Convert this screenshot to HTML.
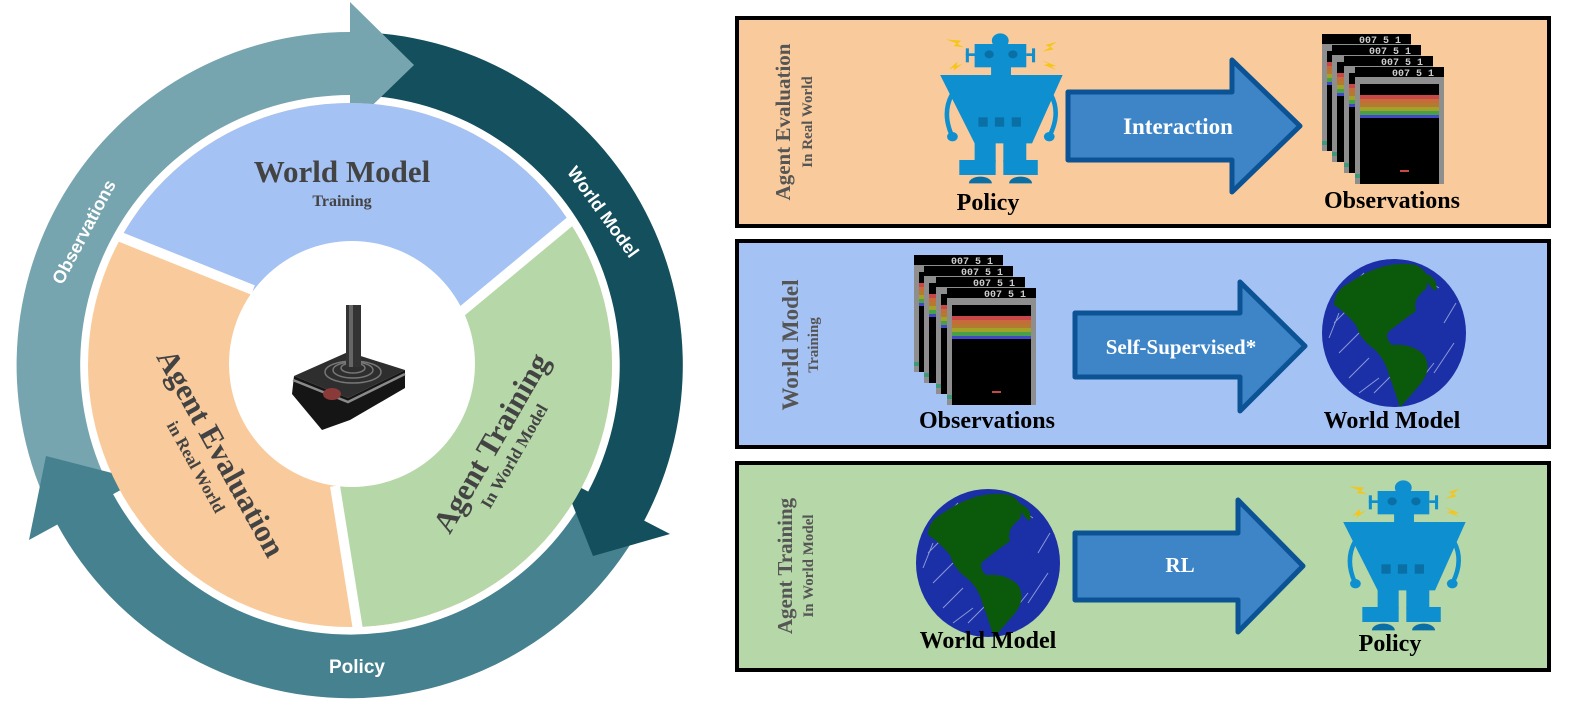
<!DOCTYPE html>
<html><head><meta charset="utf-8"><style>
html,body{margin:0;padding:0;background:#fff}
svg{display:block}
.sf{font-family:"Liberation Serif",serif;font-weight:bold}
.ss{font-family:"Liberation Sans",sans-serif;font-weight:bold}
</style></head><body>
<svg width="1588" height="712" viewBox="0 0 1588 712" xmlns="http://www.w3.org/2000/svg">
<defs>
<clipPath id="pc"><circle cx="350" cy="365" r="262"/></clipPath>
<g id="robot">
  <g fill="#f5c518">
    <polygon points="120,58 160,62 150,72 168,82 140,78 148,70"/>
    <polygon points="410,65 380,75 392,82 372,95 402,88 392,80"/>
    <polygon points="128,148 150,125 148,138 165,130 140,152 142,142"/>
    <polygon points="370,120 408,138 395,140 410,150 375,135 388,132"/>
  </g>
  <g fill="#0e8fd0">
    <circle cx="262" cy="62" r="22"/>
    <rect x="252" y="60" width="22" height="20"/>
    <rect x="195" y="72" width="135" height="70"/>
    <rect x="172" y="85" width="8" height="42"/><rect x="172" y="100" width="25" height="8"/>
    <rect x="345" y="85" width="8" height="42"/><rect x="330" y="100" width="22" height="8"/>
    <rect x="238" y="140" width="52" height="28"/>
    <polygon points="105,165 425,165 345,370 195,370"/>
    <rect x="195" y="368" width="55" height="58"/><rect x="270" y="368" width="60" height="58"/>
    <rect x="155" y="420" width="95" height="45"/><rect x="270" y="420" width="90" height="45"/>
  </g>
  <g fill="none" stroke="#0e8fd0" stroke-width="12">
    <path d="M135,225 Q110,280 135,345"/><path d="M395,225 Q420,280 392,345"/>
  </g>
  <g fill="#0e8fd0"><circle cx="137" cy="350" r="14"/><circle cx="390" cy="350" r="14"/></g>
  <g fill="#0a6fa5">
    <circle cx="233" cy="103" r="12"/><circle cx="295" cy="103" r="12"/>
    <rect x="205" y="292" width="24" height="28"/><rect x="248" y="292" width="24" height="28"/><rect x="292" y="292" width="24" height="28"/>
    <path d="M180,490 A30,20 0 0 1 240,490 Z"/><path d="M285,490 A30,20 0 0 1 345,490 Z"/>
  </g>
</g>
<g id="frame">
  <rect x="0" y="0" width="89" height="117" fill="#000"/>
  <rect x="0" y="10" width="89" height="107" fill="#8e8e8e"/>
  <rect x="5" y="17" width="79" height="100" fill="#000"/>
  <rect x="0" y="107" width="5" height="4" fill="#3a9a7a"/>
  <rect x="5" y="28" width="79" height="4" fill="#c84848"/>
  <rect x="5" y="32" width="79" height="4" fill="#c66c3a"/>
  <rect x="5" y="36" width="79" height="4" fill="#b47a30"/>
  <rect x="5" y="40" width="79" height="4" fill="#a2a22a"/>
  <rect x="5" y="44" width="79" height="4" fill="#48a048"/>
  <rect x="5" y="48" width="79" height="3" fill="#4248c8"/>
  <rect x="45" y="103" width="9" height="2" fill="#c84848"/>
  <text x="58" y="9" font-family="Liberation Mono,monospace" font-weight="bold" font-size="10" fill="#ccc" text-anchor="middle">007 5 1</text>
</g>
<g id="stack">
  <use href="#frame" x="0" y="0"/><use href="#frame" x="10" y="11"/>
  <use href="#frame" x="22" y="22"/><use href="#frame" x="33" y="33"/>
</g>
<g id="globe">
  <ellipse cx="0" cy="0" rx="72" ry="74" fill="#1b2fa6"/>
  <g stroke="#d8defa" stroke-width="1" opacity="0.6">
    <path d="M-50,-40 L-30,-60 M-60,-10 L-20,-50 M-55,20 L-35,0 M-45,45 L-25,25 M-20,60 L0,40 M20,55 L40,30 M40,40 L60,10 M50,-10 L62,-30 M30,-55 L45,-45 M-65,5 L-55,-20 M10,65 L25,45 M-35,60 L-15,45"/>
  </g>
  <path d="M-45,-50 Q-10,-74 22,-68 Q38,-60 32,-44 Q18,-34 22,-22 Q8,-12 -2,-4 Q-12,2 -2,12 Q18,10 30,22 Q40,38 22,56 Q12,68 6,74 Q0,56 -5,42 Q-9,26 -20,16 Q-34,6 -38,-8 Q-50,-22 -60,-28 Q-60,-42 -45,-50 Z" fill="#0b5a0b"/>
  <path d="M30,-60 Q45,-55 42,-42 Q35,-45 30,-60 Z" fill="#0b5a0b"/>
</g>
</defs>

<!-- LEFT CIRCLE -->
<path d="M57,524 A333,333 0 0 1 350,32 L350,95 A270,270 0 0 0 113,494 Z" fill="#76a5af"/>
<path d="M350,32 A333,333 0 0 1 644,521 L588,492 A270,270 0 0 0 350,95 Z" fill="#134f5c"/>
<path d="M644,521 A333,333 0 0 1 57,524 L113,494 A270,270 0 0 0 588,492 Z" fill="#45818e"/>
<polygon points="350,2 350,127 414,65" fill="#76a5af"/>
<polygon points="562,478 670,534 593,556" fill="#134f5c"/>
<polygon points="139,480 29,540 46,456" fill="#45818e"/>

<g clip-path="url(#pc)">
  <rect x="80" y="95" width="540" height="540" fill="#f9cb9c"/>
  <polygon points="350,365 253,290 0,188 0,-50 700,-50 700,114 461,312" fill="#a4c2f4"/>
  <polygon points="350,365 461,312 700,114 700,740 374,740 335,486" fill="#b6d7a8"/>
</g>
<g stroke="#fff" stroke-width="10">
  <line x1="253" y1="290" x2="118" y2="236"/>
  <line x1="461" y1="312" x2="573" y2="219"/>
  <line x1="335" y1="486" x2="358" y2="630"/>
</g>
<circle cx="352" cy="364" r="123" fill="#fff"/>

<text x="342" y="182" class="sf" font-size="31" fill="#434343" text-anchor="middle">World Model</text>
<text x="342" y="206" class="sf" font-size="16" fill="#434343" text-anchor="middle">Training</text>
<g transform="translate(212,458) rotate(61)">
  <text x="0" y="0" class="sf" font-size="31" fill="#434343" text-anchor="middle">Agent Evaluation</text>
  <text x="0" y="24" class="sf" font-size="17" fill="#434343" text-anchor="middle">in Real World</text>
</g>
<g transform="translate(500,448) rotate(-60)">
  <text x="0" y="0" class="sf" font-size="31" fill="#434343" text-anchor="middle">Agent Training</text>
  <text x="0" y="22" class="sf" font-size="17" fill="#434343" text-anchor="middle">In World Model</text>
</g>
<text x="84" y="238" class="ss" font-size="18" fill="#fff" text-anchor="middle" transform="rotate(-62 84 232)">Observations</text>
<text x="603" y="218" class="ss" font-size="18" fill="#fff" text-anchor="middle" transform="rotate(54 603 212)">World Model</text>
<text x="357" y="673" class="ss" font-size="19" fill="#fff" text-anchor="middle">Policy</text>

<!-- joystick -->
<polygon points="294,376 348,352 405,370 348,398" fill="#2e2e2e"/>
<polygon points="294,376 348,398 405,370 405,388 350,420 322,430 292,394" fill="#151515"/>
<path d="M293,380 L348,402 L405,374" stroke="#8a8a8a" stroke-width="2.5" fill="none"/>
<g fill="none" stroke="#777" stroke-width="1.5">
  <ellipse cx="353" cy="372" rx="28" ry="11"/><ellipse cx="353" cy="370" rx="20" ry="8"/><ellipse cx="353" cy="368" rx="12" ry="5"/>
</g>
<rect x="346" y="305" width="15" height="62" fill="#333"/>
<rect x="349" y="305" width="4" height="62" fill="#666"/>
<ellipse cx="332" cy="394" rx="9" ry="6" fill="#8b3a3a"/>

<!-- RIGHT PANELS -->
<rect x="737" y="18" width="812" height="208" fill="#f9cb9c" stroke="#000" stroke-width="4"/>
<rect x="737" y="241" width="812" height="206" fill="#a4c2f4" stroke="#000" stroke-width="4"/>
<rect x="737" y="463" width="812" height="207" fill="#b6d7a8" stroke="#000" stroke-width="4"/>

<g transform="translate(790,122) rotate(-90)"><text class="sf" font-size="21" fill="#555" text-anchor="middle">Agent Evaluation</text></g>
<g transform="translate(812,122) rotate(-90)"><text class="sf" font-size="15" fill="#555" text-anchor="middle">In Real World</text></g>
<g transform="translate(798,345) rotate(-90)"><text class="sf" font-size="23" fill="#555" text-anchor="middle">World Model</text></g>
<g transform="translate(818,345) rotate(-90)"><text class="sf" font-size="15" fill="#555" text-anchor="middle">Training</text></g>
<g transform="translate(792,566) rotate(-90)"><text class="sf" font-size="21" fill="#555" text-anchor="middle">Agent Training</text></g>
<g transform="translate(813,566) rotate(-90)"><text class="sf" font-size="15" fill="#555" text-anchor="middle">In World Model</text></g>

<!-- arrows -->
<g fill="#3d85c6" stroke="#0b5394" stroke-width="5" stroke-linejoin="round">
  <polygon points="1068,92 1232,92 1232,60 1300,126 1232,192 1232,160 1068,160"/>
  <polygon points="1075,313 1240,313 1240,282 1305,346 1240,411 1240,377 1075,377"/>
  <polygon points="1075,533 1238,533 1238,500 1303,566 1238,632 1238,600 1075,600"/>
</g>
<text x="1178" y="134" class="sf" font-size="23" fill="#fff" text-anchor="middle" font-weight="normal">Interaction</text>
<text x="1181" y="354" class="sf" font-size="21" fill="#fff" text-anchor="middle">Self-Supervised*</text>
<text x="1180" y="572" class="sf" font-size="21" fill="#fff" text-anchor="middle">RL</text>

<!-- panel 1 -->
<use href="#robot" transform="translate(900,20) scale(0.3827,0.3333)"/>
<use href="#stack" x="1322" y="34"/>
<text x="988" y="210" class="sf" font-size="24" fill="#000" text-anchor="middle">Policy</text>
<text x="1392" y="208" class="sf" font-size="24" fill="#000" text-anchor="middle">Observations</text>

<!-- panel 2 -->
<use href="#stack" x="914" y="255"/>
<use href="#globe" x="1394" y="333"/>
<text x="987" y="428" class="sf" font-size="24" fill="#000" text-anchor="middle">Observations</text>
<text x="1392" y="428" class="sf" font-size="24" fill="#000" text-anchor="middle">World Model</text>

<!-- panel 3 -->
<use href="#globe" x="988" y="563"/>
<use href="#robot" transform="translate(1303,467) scale(0.3827,0.3333)"/>
<text x="988" y="648" class="sf" font-size="24" fill="#000" text-anchor="middle">World Model</text>
<text x="1390" y="651" class="sf" font-size="24" fill="#000" text-anchor="middle">Policy</text>
</svg>
</body></html>
